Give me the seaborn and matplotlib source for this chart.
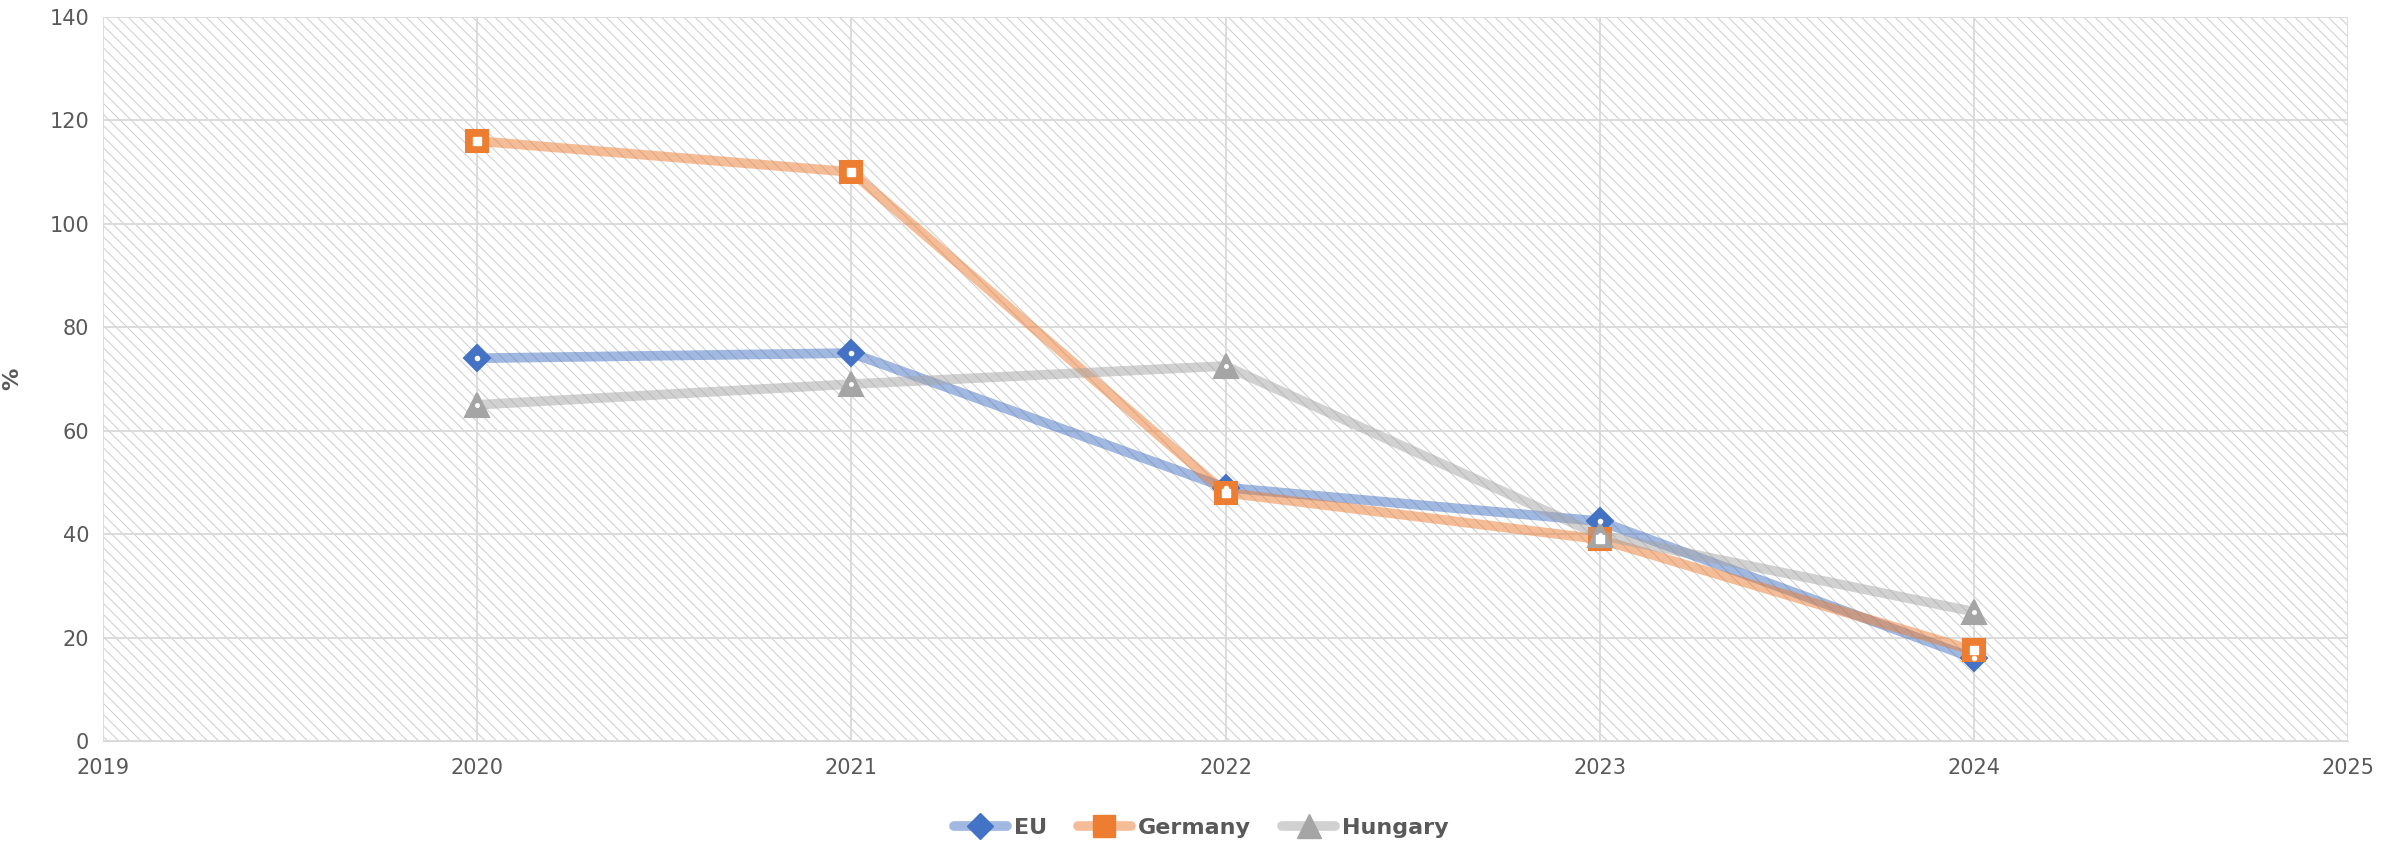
import numpy as np
import pandas as pd
import seaborn as sns
import matplotlib.pyplot as plt
from matplotlib.patches import Rectangle
from matplotlib.lines import Line2D


# ------------------------- data -------------------------
years = [2020, 2021, 2022, 2023, 2024]
eu = [74, 75, 49, 42.5, 16]
germany = [116, 110, 48, 39, 17.5]
hungary = [65, 69, 72.5, 39.8, 25]

series_names = ['EU', 'Germany', 'Hungary']
x_ticks = [2019, 2020, 2021, 2022, 2023, 2024, 2025]
y_ticks = [0, 20, 40, 60, 80, 100, 120, 140]


# ------------------------- style -------------------------
sns.set_style('white')
plt.rcParams['font.family'] = ['Liberation Sans Narrow', 'DejaVu Sans']
plt.rcParams['hatch.linewidth'] = 0.8
plt.rcParams['hatch.color'] = '#d2d2d2'

text_col = '#595959'
grid_col = '#d9d9d9'

# solid marker colour, faded line colour, marker, marker size
styles = {
    'EU':      ('#4472C4', (0.267, 0.447, 0.769, 0.5), 'D', 13),
    'Germany': ('#ED7D31', (0.929, 0.490, 0.192, 0.5), 's', 16),
    'Hungary': ('#A5A5A5', (0.647, 0.647, 0.647, 0.5), '^', 17),
}
inner = {'EU': ('o', 3), 'Germany': ('s', 6), 'Hungary': ('o', 2.5)}

df = pd.DataFrame({'year': years, 'EU': eu, 'Germany': germany, 'Hungary': hungary})


# ------------------------- plot -------------------------
fig = plt.figure(figsize=(24.02, 8.43), dpi=100)
ax = fig.add_axes([0.0429, 0.121, 0.9346, 0.859])

# hatched plot area
ax.add_patch(Rectangle((0, 0), 1, 1, transform=ax.transAxes, facecolor='white',
                       edgecolor='#d2d2d2', hatch='\\\\\\', lw=0, zorder=0))

for name in series_names:
    solid, faded, mk, ms = styles[name]
    sns.lineplot(data=df, x='year', y=name, ax=ax, color=faded, lw=7,
                 marker=mk, markersize=ms, markerfacecolor=solid,
                 markeredgecolor=solid, markeredgewidth=1.5, zorder=3)
    imk, ims = inner[name]
    ax.plot(df['year'], df[name], ls='none', marker=imk, markersize=ims,
            color='white', zorder=4)

ax.set_xlim(2019, 2025)
ax.set_ylim(0, 140)
ax.set_xticks(x_ticks)
ax.set_yticks(y_ticks)
ax.grid(True, color=grid_col, lw=1.3, zorder=1)
ax.set_axisbelow(True)
for sp in ax.spines.values():
    sp.set_visible(False)
ax.spines['bottom'].set_visible(True)
ax.spines['bottom'].set_color(grid_col)

ax.tick_params(axis='both', length=0, labelsize=15, colors=text_col)
ax.tick_params(axis='x', pad=12)
ax.tick_params(axis='y', pad=10)
ax.set_xlabel('')
ax.set_ylabel('%', fontsize=16, color=text_col, fontweight='bold')
ax.yaxis.set_label_coords(-0.036, 0.5)

handles = []
for name in series_names:
    solid, faded, mk, ms = styles[name]
    handles.append(Line2D([0], [0], color=faded, lw=7, marker=mk, markersize=ms,
                          markerfacecolor=solid, markeredgecolor=solid))
leg = fig.legend(handles, series_names, loc='lower center', ncol=3, frameon=False,
                 bbox_to_anchor=(0.5, -0.018), handlelength=2.4, columnspacing=1.4,
                 handletextpad=0.3, prop={'size': 16, 'weight': 'bold'})
for t in leg.get_texts():
    t.set_color(text_col)

plt.savefig('out.png', dpi=100)
